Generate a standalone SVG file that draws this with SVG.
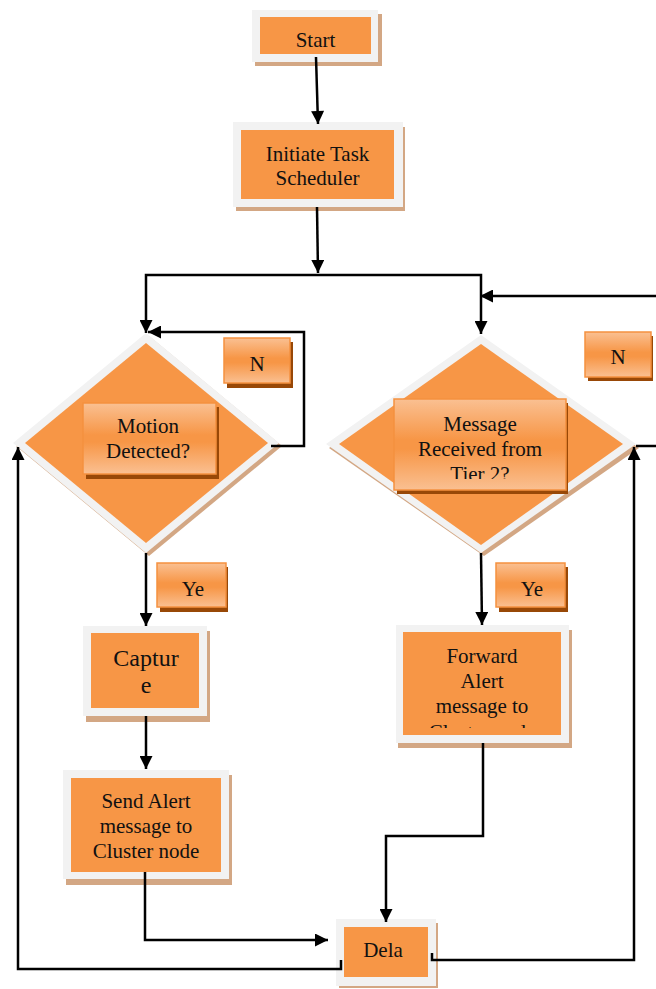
<svg xmlns="http://www.w3.org/2000/svg" width="656" height="989" viewBox="0 0 656 989">
  <style>
    .frame { fill: #F2F2F2; }
    .shade { fill: #D3A784; }
    .body { fill: #F79646; }
    .tag { fill: url(#tagFill); stroke: #F5913F; stroke-width: 1.5; }
    .tagShade { fill: #984807; }
    text { font-family: 'Liberation Serif', 'DejaVu Serif', serif; font-size: 21px; fill: #111; text-anchor: middle; }
    .big { font-size: 24px; }
    .wire { fill: none; stroke: #000; stroke-width: 2.5; }
    .arr { marker-end: url(#head); }
  </style>
  <defs>
    <linearGradient id="tagFill" x1="0" y1="0" x2="0" y2="1">
      <stop offset="0" stop-color="#FAC092"/>
      <stop offset="0.45" stop-color="#F79646"/>
      <stop offset="0.55" stop-color="#F79646"/>
      <stop offset="1" stop-color="#FAC092"/>
    </linearGradient>
    <marker id="head" viewBox="0 0 10 10" refX="10" refY="5" markerUnits="userSpaceOnUse" markerWidth="15" markerHeight="13" orient="auto">
      <path d="M0,0 L10,5 L0,10 z" fill="#000"/>
    </marker>
    <clipPath id="clipMsg"><rect x="394" y="399" width="172" height="80"/></clipPath>
    <clipPath id="clipFwd"><rect x="396" y="625" width="173" height="103"/></clipPath>
  </defs>

  <!-- process and decision shapes -->
  <g id="start">
    <rect class="shade" x="255" y="14" width="127" height="52"/>
    <rect class="frame" x="252" y="10" width="126" height="52"/>
    <rect class="body" x="260" y="17" width="111" height="37"/>
    <text x="315.5" y="47" font-family="Liberation Serif, serif">Start</text>
  </g>

  <g id="scheduler">
    <rect class="shade" x="236" y="127" width="169" height="84"/>
    <rect class="frame" x="233" y="122" width="170" height="85"/>
    <rect class="body" x="241" y="130" width="153" height="69"/>
    <text x="317.5" y="161">Initiate Task</text>
    <text x="317.5" y="185">Scheduler</text>
  </g>

  <g id="motion">
    <polygon class="shade" points="149,336 282,446 149,556 16,446"/>
    <polygon class="frame" points="146,333 279,443 146,553 13,443"/>
    <polygon class="body" points="146,343 268,443 146,543 25,443"/>
    <rect class="tagShade" x="86" y="407" width="133" height="72"/>
    <rect class="tag" x="83" y="403" width="133" height="71"/>
    <text x="148" y="433">Motion</text>
    <text x="148" y="458">Detected?</text>
  </g>

  <g id="motionNo">
    <rect class="tagShade" x="227" y="342" width="66" height="46"/>
    <rect class="tag" x="224" y="338" width="66" height="45"/>
    <text x="257" y="371">N</text>
  </g>

  <g id="message">
    <polygon class="shade" points="484,338 639,448 484,556 329,448"/>
    <polygon class="frame" points="481,335 636,444 481,553 326,444"/>
    <polygon class="body" points="481,344 623,444 481,545 339,444"/>
    <rect class="tagShade" x="397" y="403" width="171" height="91"/>
    <rect class="tag" x="394" y="399" width="172" height="91"/>
    <g clip-path="url(#clipMsg)">
      <text x="480" y="431">Message</text>
      <text x="480" y="456">Received from</text>
      <text x="480" y="481">Tier 2?</text>
    </g>
  </g>

  <g id="messageNo">
    <rect class="tagShade" x="588" y="336" width="65" height="45"/>
    <rect class="tag" x="585" y="332" width="66" height="45"/>
    <text x="618" y="364">N</text>
  </g>

  <g id="motionYes">
    <rect class="tagShade" x="160" y="567" width="68" height="45"/>
    <rect class="tag" x="157" y="563" width="69" height="44"/>
    <text x="193" y="596">Ye</text>
  </g>

  <g id="messageYes">
    <rect class="tagShade" x="499" y="567" width="69" height="45"/>
    <rect class="tag" x="496" y="563" width="69" height="44"/>
    <text x="532" y="596">Ye</text>
  </g>

  <g id="capture">
    <rect class="shade" x="86" y="631" width="124" height="91"/>
    <rect class="frame" x="83" y="626" width="124" height="90"/>
    <rect class="body" x="91" y="633" width="108" height="75"/>
    <text class="big" x="146" y="666">Captur</text>
    <text class="big" x="146" y="693">e</text>
  </g>

  <g id="forward">
    <rect class="shade" x="398" y="630" width="174" height="118"/>
    <rect class="frame" x="396" y="625" width="173" height="118"/>
    <rect class="body" x="403" y="632" width="158" height="103"/>
    <g clip-path="url(#clipFwd)">
      <text x="482" y="663">Forward</text>
      <text x="482" y="688">Alert</text>
      <text x="482" y="713">message to</text>
      <text x="482" y="739">Cluster node</text>
    </g>
  </g>

  <g id="sendAlert">
    <rect class="shade" x="66" y="775" width="166" height="110"/>
    <rect class="frame" x="63" y="770" width="166" height="109"/>
    <rect class="body" x="71" y="778" width="150" height="94"/>
    <text x="146" y="808">Send Alert</text>
    <text x="146" y="833">message to</text>
    <text x="146" y="858">Cluster node</text>
  </g>

  <g id="delay">
    <rect class="shade" x="339" y="923" width="99" height="65"/>
    <rect class="frame" x="336" y="919" width="100" height="67"/>
    <rect class="body" x="344" y="927" width="84" height="50"/>
    <text x="383" y="957">Dela</text>
  </g>

  <!-- connectors -->
  <g id="connectors">
    <path class="wire arr" d="M316,57 L318,124"/>
    <path class="wire arr" d="M317,207 L318,273"/>
    <path class="wire arr" d="M318,275 L146,275 L146,333"/>
    <path class="wire arr" d="M318,275 L481,275 L481,334"/>
    <path class="wire arr" d="M271,446 L304,446 L304,332 L148,332"/>
    <path class="wire arr" d="M656,296 L480,296"/>
    <path class="wire" d="M636,446 L656,446"/>
    <path class="wire arr" d="M146,553 L146,626"/>
    <path class="wire arr" d="M146,716 L146,769"/>
    <path class="wire arr" d="M145,872 L145,940 L328,940"/>
    <path class="wire arr" d="M481,553 L482,625"/>
    <path class="wire arr" d="M483,743 L483,836 L386,836 L386,922"/>
    <path class="wire arr" d="M341,960 L341,969 L18,969 L18,447"/>
    <path class="wire arr" d="M432,953 L432,960 L634,960 L634,447"/>
  </g>
</svg>
